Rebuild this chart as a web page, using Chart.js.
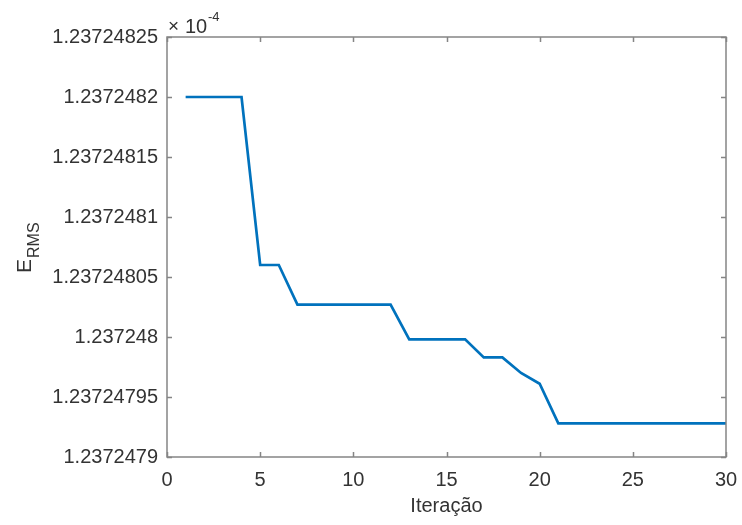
<!DOCTYPE html>
<html>
<head>
<meta charset="utf-8">
<script src="https://cdn.jsdelivr.net/npm/chart.js@4.4.1/dist/chart.umd.min.js"></script>
<style>
  html, body { margin: 0; padding: 0; background: #ffffff; }
  canvas { display: block; }
</style>
</head>
<body>
<canvas id="chart-erms" width="742" height="525"></canvas>
<script>
// iteration number
const iterations = [1, 2, 3, 4, 5, 6, 7, 8, 9, 10, 11, 12, 13, 14, 15, 16, 17, 18, 19, 20, 21, 22, 23, 24, 25, 26, 27, 28, 29, 30];
// E_RMS values (x 10^-4)
const ermsValues = [
    1.2372482, 1.2372482, 1.2372482, 1.2372482,
    1.23724806, 1.23724806,
    1.237248027, 1.237248027, 1.237248027, 1.237248027, 1.237248027, 1.237248027,
    1.237247998, 1.237247998, 1.237247998, 1.237247998,
    1.237247983, 1.237247983,
    1.23724797, 1.237247961,
    1.237247928, 1.237247928, 1.237247928, 1.237247928, 1.237247928,
    1.237247928, 1.237247928, 1.237247928, 1.237247928, 1.237247928
];

const xTicks = [0, 5, 10, 15, 20, 25, 30];
const yTicks = [1.2372479, 1.23724795, 1.237248, 1.23724805, 1.2372481, 1.23724815, 1.2372482, 1.23724825];
const yTickLabels = ['1.2372479', '1.23724795', '1.237248', '1.23724805', '1.2372481', '1.23724815', '1.2372482', '1.23724825'];

const fontFamily = '"Liberation Sans", Arial, Helvetica, sans-serif';
const textColor = '#333333';
const axisColor = '#858585';

// box + inward ticks on every side, exponent and y label (MATLAB look)
const matlabAxesPlugin = {
    id: 'matlabAxes',
    afterDraw: function (chart) {
        const ctx = chart.ctx;
        const a = chart.chartArea;
        const xs = chart.scales.x;
        const ys = chart.scales.y;
        const tickLen = 5;

        ctx.save();
        ctx.strokeStyle = axisColor;
        ctx.lineWidth = 1.5;
        ctx.strokeRect(a.left, a.top, a.right - a.left, a.bottom - a.top);

        ctx.beginPath();
        xTicks.forEach(function (v) {
            const px = Math.round(xs.getPixelForValue(v)) + 0.5;
            ctx.moveTo(px, a.bottom); ctx.lineTo(px, a.bottom - tickLen);
            ctx.moveTo(px, a.top); ctx.lineTo(px, a.top + tickLen);
        });
        yTicks.forEach(function (v) {
            const py = Math.round(ys.getPixelForValue(v)) + 0.5;
            ctx.moveTo(a.left, py); ctx.lineTo(a.left + tickLen, py);
            ctx.moveTo(a.right, py); ctx.lineTo(a.right - tickLen, py);
        });
        ctx.stroke();

        // x10^-4 multiplier
        ctx.fillStyle = textColor;
        ctx.textAlign = 'left';
        ctx.textBaseline = 'alphabetic';
        ctx.font = '19px ' + fontFamily;
        ctx.fillText('\u00d7', a.left + 1, 32);
        ctx.font = '20px ' + fontFamily;
        ctx.fillText('10', a.left + 18, 33);
        ctx.font = '13px ' + fontFamily;
        ctx.fillText('-4', a.left + 41, 21);

        // E_RMS rotated label
        ctx.translate(31, 273);
        ctx.rotate(-Math.PI / 2);
        ctx.font = '21px ' + fontFamily;
        ctx.fillText('E', 0, 0);
        ctx.font = '16px ' + fontFamily;
        ctx.fillText('RMS', 15, 8);
        ctx.restore();
    }
};

var points = iterations.map(function (it, i) {
    return { x: it, y: ermsValues[i] };
});

var ctx = document.getElementById('chart-erms').getContext('2d');
var chart = new Chart(ctx, {
    type: 'line',
    data: {
        datasets: [{
            data: points,
            borderColor: '#0072BD',
            backgroundColor: '#0072BD',
            borderWidth: 2.7,
            pointRadius: 0,
            tension: 0,
            fill: false
        }]
    },
    options: {
        responsive: false,
        animation: false,
        layout: {
            padding: { top: 37, right: 16, left: 0, bottom: 0 }
        },
        plugins: {
            legend: { display: false },
            tooltip: { enabled: false }
        },
        scales: {
            x: {
                type: 'linear',
                min: 0,
                max: 30,
                grid: { display: false, drawTicks: false },
                border: { display: false },
                afterBuildTicks: function (scale) {
                    scale.ticks = xTicks.map(function (v) { return { value: v }; });
                },
                afterFit: function (scale) {
                    scale.height = 68;
                    // don't let the "30" label push the plot area inwards
                    scale.paddingLeft = 0;
                    scale.paddingRight = 0;
                },
                ticks: {
                    padding: 11,
                    maxRotation: 0,
                    color: textColor,
                    font: { family: fontFamily, size: 20 }
                },
                title: {
                    display: true,
                    text: 'Iteração',
                    color: textColor,
                    font: { family: fontFamily, size: 20 },
                    padding: { top: 0, bottom: 7 }
                }
            },
            y: {
                type: 'linear',
                min: 1.2372479,
                max: 1.23724825,
                grid: { display: false, drawTicks: false },
                border: { display: false },
                afterBuildTicks: function (scale) {
                    scale.ticks = yTicks.map(function (v) { return { value: v }; });
                },
                afterFit: function (scale) {
                    scale.width = 167;
                    scale.paddingTop = 0;
                    scale.paddingBottom = 0;
                },
                ticks: {
                    padding: 9,
                    color: textColor,
                    font: { family: fontFamily, size: 20 },
                    callback: function (value, index) {
                        return yTickLabels[index];
                    }
                }
            }
        }
    },
    plugins: [matlabAxesPlugin]
});
</script>
</body>
</html>
